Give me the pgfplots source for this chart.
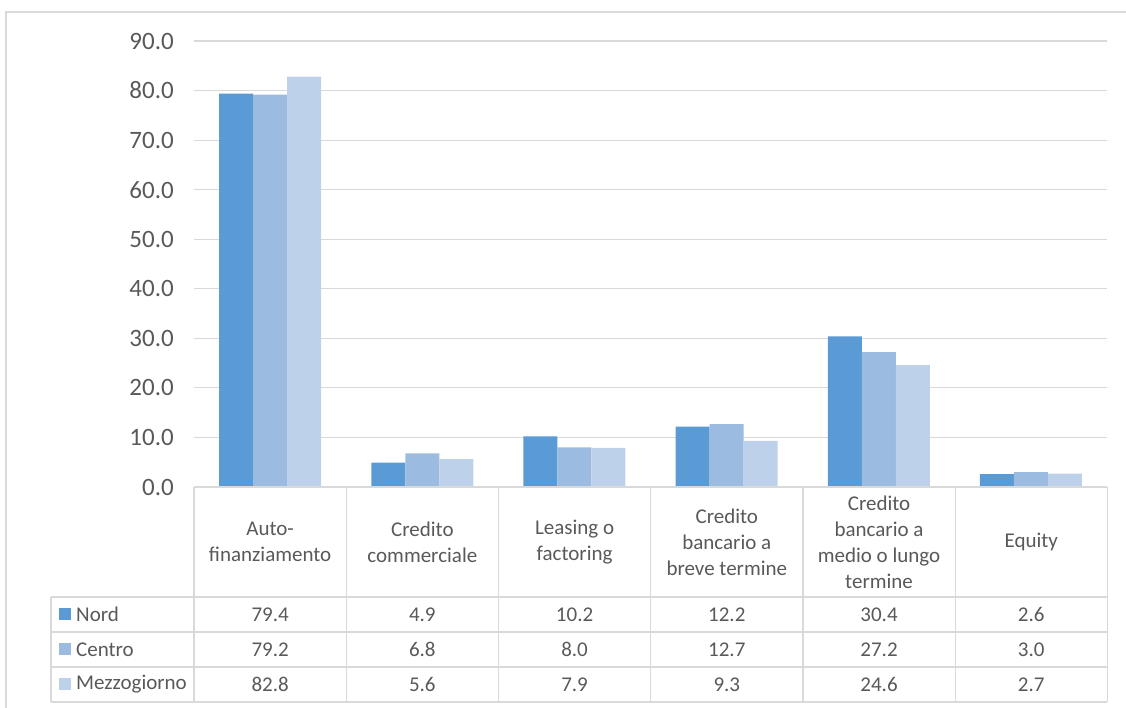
\documentclass[border=0pt]{standalone}
\usepackage{fontspec}
\setmainfont{Carlito}
\usepackage{pgfplots}
\pgfplotsset{compat=1.18}
\usepackage{pgfplotstable}

\definecolor{nord}{HTML}{5B9BD5}
\definecolor{centro}{HTML}{9BBBE1}
\definecolor{mezzo}{HTML}{BDD1EA}
\definecolor{txt}{HTML}{595959}
\definecolor{rule}{HTML}{D9D9D9}

% Quote di imprese per fonte di finanziamento e ripartizione territoriale
\pgfplotstableread{
idx nord centro mezzo
0   79.4 79.2  82.8
1   4.9  6.8   5.6
2   10.2 8.0   7.9
3   12.2 12.7  9.3
4   30.4 27.2  24.6
5   2.6  3.0   2.7
}\data

\newcommand{\lbl}{\fontsize{21}{26}\selectfont}
\newcommand{\tck}{\fontsize{25}{30}\selectfont}

\begin{document}
\begin{tikzpicture}[x=1pt,y=1pt]
\useasboundingbox (0,0) rectangle (1126,708);
% chart frame
\draw[rule, line width=1.5pt] (6,-5) -- (6,696) -- (1135,696);

\begin{axis}[
  at={(194pt,221pt)}, anchor=south west,
  scale only axis, width=913pt, height=446pt,
  xmin=-0.5, xmax=5.5, ymin=0, ymax=90,
  ytick={0,10,...,90}, xtick=\empty,
  ymajorgrids, grid style={rule, line width=1.2pt},
  axis line style={draw=none},
  major tick length=0pt,
  ybar=0pt, bar width=34pt,
  yticklabel style={font=\tck, text=txt, inner sep=0pt, xshift=-20pt,
    /pgf/number format/.cd, fixed, fixed zerofill, precision=1, assume math mode=true},
  clip=false,
]
\addplot[fill=nord, draw=none] table[x=idx, y=nord] {\data};
\addplot[fill=centro, draw=none] table[x=idx, y=centro] {\data};
\addplot[fill=mezzo, draw=none] table[x=idx, y=mezzo] {\data};
\end{axis}

% data table below the bars
\begin{scope}[rule, line width=1.2pt]
  \draw (194,221) -- (1107.4,221);
  \foreach \y in {111,76,41,6} \draw (51,\y) -- (1107.4,\y);
  \draw (51,111) -- (51,6);
  \foreach \k in {0,...,6} \draw ({194+\k*152.23},221) -- ({194+\k*152.23},6);
\end{scope}

\begin{scope}[every node/.style={font=\lbl, text=txt, align=center, inner sep=0pt}]
  \foreach \t [count=\k from 0] in {
    {Auto-\\finanziamento},
    {Credito\\commerciale},
    {Leasing o\\factoring},
    {Credito\\bancario a\\breve termine},
    {Credito\\bancario a\\medio o lungo\\termine},
    {Equity}}
    \node at ({194+(\k+0.5)*152.23},166) {\t};

  \foreach \n/\c/\y in {Nord/nord/93.5, Centro/centro/58.5, Mezzogiorno/mezzo/23.5} {
    \fill[\c] (59,\y-6) rectangle (71,\y+6);
    \node[anchor=west] at (76,\y) {\n};
  }

  \foreach \v [count=\k from 0] in {79.4,4.9,10.2,12.2,30.4,2.6}
    \node at ({194+(\k+0.5)*152.23},93.5) {\v};
  \foreach \v [count=\k from 0] in {79.2,6.8,8.0,12.7,27.2,3.0}
    \node at ({194+(\k+0.5)*152.23},58.5) {\v};
  \foreach \v [count=\k from 0] in {82.8,5.6,7.9,9.3,24.6,2.7}
    \node at ({194+(\k+0.5)*152.23},23.5) {\v};
\end{scope}
\end{tikzpicture}
\end{document}
